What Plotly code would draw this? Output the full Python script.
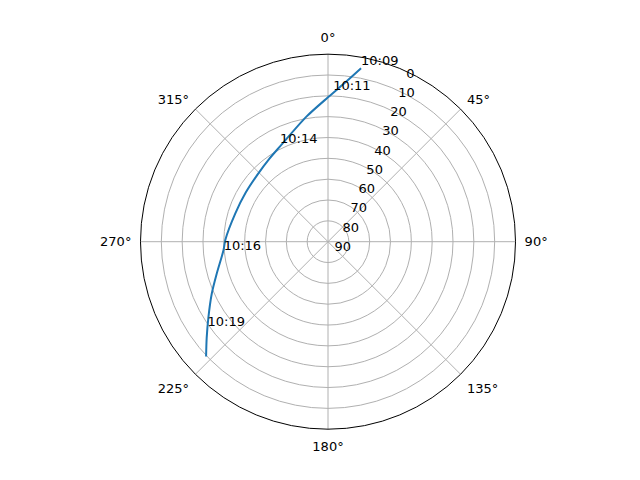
import plotly.graph_objects as go

# satellite pass: azimuth (deg, clockwise from north) and elevation (deg)
azimuth = [10.8, 6.7, 0.0, 350.2, 333.3, 324.5, 315.0, 300.7, 287.2, 271.0,
           265.4, 253.9, 245.8, 237.6, 231.6, 226.7]
elevation = [5.3, 12.4, 20.7, 29.1, 38.8, 41.3, 43.1, 44.0, 43.5, 40.7,
             39.7, 34.4, 28.8, 22.0, 15.7, 9.6]

# time labels along the track
label_text = ["10:09", "10:11", "10:14", "10:16", "10:19"]
label_az = [10.8, 2.0, 333.3, 263.6, 234.0]
label_el = [5.3, 18.8, 38.8, 39.6, 18.5]

angle_ticks = [0, 45, 90, 135, 180, 225, 270, 315]
angle_labels = [f"{a}°" for a in angle_ticks]
radial_ticks = [0, 10, 20, 30, 40, 50, 60, 70, 80, 90]

fig = go.Figure()

fig.add_trace(go.Scatterpolar(
    r=elevation, theta=azimuth, mode="lines",
    line=dict(color="#1f77b4", width=2, shape="spline", smoothing=0.8),
    showlegend=False, hoverinfo="skip"
))

fig.add_trace(go.Scatterpolar(
    r=label_el, theta=label_az, mode="text",
    text=label_text, textposition="top right",
    textfont=dict(size=13, color="black"),
    showlegend=False, hoverinfo="skip"
))

fig.update_layout(
    width=640, height=480,
    margin=dict(l=0, r=0, t=0, b=0),
    paper_bgcolor="white",
    font=dict(family="DejaVu Sans", size=13, color="black"),
    polar=dict(
        domain=dict(x=[0.2070, 0.7930], y=[0.1225, 0.9038]),
        bgcolor="white",
        angularaxis=dict(
            rotation=90, direction="clockwise",
            tickvals=angle_ticks, ticktext=angle_labels,
            showline=True, linecolor="black", linewidth=1,
            gridcolor="#b0b0b0", gridwidth=1,
            ticks="outside", ticklen=6, tickcolor="rgba(0,0,0,0)",
            tickfont=dict(size=13)
        ),
        radialaxis=dict(
            range=[90, 0], angle=67.5,
            tickvals=radial_ticks, ticktext=[str(v) for v in radial_ticks],
            showline=False, ticks="",
            gridcolor="#b0b0b0", gridwidth=1,
            tickfont=dict(size=13), tickangle=67.5
        )
    )
)

fig.write_html("out.html")
